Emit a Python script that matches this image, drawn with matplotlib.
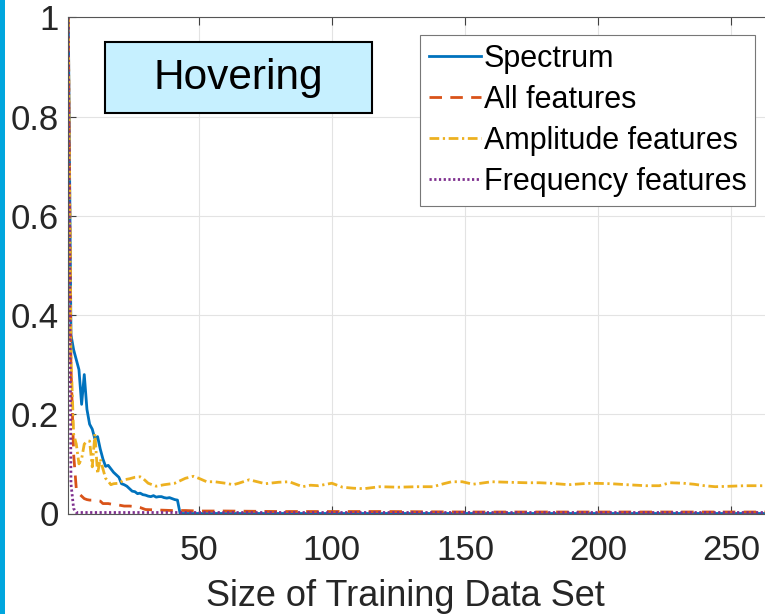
import matplotlib
matplotlib.use("Agg")
import matplotlib.pyplot as plt
from matplotlib.patches import Rectangle

plt.rcParams['font.family'] = ['Liberation Sans', 'DejaVu Sans']

# Classification error vs. training-set size (Hovering)
spec_x = [1, 2, 3, 4, 5, 6, 7, 8, 9, 10, 11, 12, 13, 14, 15, 16, 17, 18, 19, 20,
          21, 22, 23, 24, 25, 26, 27, 28, 29, 30, 31, 32, 33, 34, 35, 36, 37, 38,
          39, 40, 41, 42, 43, 270]
spec_y = [1.0, 0.36, 0.33, 0.31, 0.29, 0.22, 0.28, 0.21, 0.18, 0.17, 0.15, 0.155,
          0.13, 0.11, 0.095, 0.097, 0.09, 0.083, 0.078, 0.073, 0.06, 0.058, 0.055,
          0.05, 0.045, 0.044, 0.04, 0.041, 0.038, 0.037, 0.035, 0.034, 0.036, 0.033,
          0.034, 0.034, 0.032, 0.031, 0.032, 0.03, 0.028, 0.027, 0.0, 0.0]

all_x = [1, 2, 3, 4, 5, 6, 7, 8, 9, 10, 11, 12, 13, 14, 16, 18, 20, 22, 24, 26,
         28, 30, 35, 40, 45, 50, 60, 80, 100, 120, 150, 200, 270]
all_y = [1.0, 0.3, 0.12, 0.05, 0.04, 0.035, 0.03, 0.028, 0.027, 0.027, 0.027,
         0.026, 0.025, 0.02, 0.02, 0.018, 0.017, 0.015, 0.015, 0.014, 0.012, 0.008,
         0.007, 0.006, 0.006, 0.005, 0.005, 0.004, 0.004, 0.004, 0.003, 0.003, 0.003]

amp_x = [1, 2, 3, 4, 5, 6, 7, 8, 9, 10, 11, 12, 13, 14, 15, 16, 17, 18, 20, 22,
         24, 26, 28, 29, 31, 34, 37, 41, 45, 48, 50, 53, 56, 60, 63, 65, 69, 72,
         75, 80, 84, 89, 92, 95, 100, 104, 108, 112, 118, 125, 132, 138, 142, 145,
         149, 153, 156, 160, 166, 173, 178, 182, 189, 194, 198, 205, 211, 218, 223,
         227, 232, 236, 240, 244, 250, 255, 263, 270]
amp_y = [1.0, 0.32, 0.16, 0.14, 0.1, 0.11, 0.14, 0.145, 0.146, 0.094, 0.16, 0.08,
         0.11, 0.09, 0.071, 0.065, 0.058, 0.06, 0.061, 0.068, 0.07, 0.073, 0.074,
         0.071, 0.061, 0.055, 0.058, 0.061, 0.071, 0.075, 0.071, 0.064, 0.064, 0.061,
         0.058, 0.061, 0.068, 0.064, 0.06, 0.063, 0.064, 0.054, 0.057, 0.056, 0.061,
         0.053, 0.051, 0.05, 0.054, 0.053, 0.054, 0.054, 0.06, 0.064, 0.064, 0.059,
         0.061, 0.064, 0.063, 0.062, 0.062, 0.061, 0.058, 0.06, 0.061, 0.06, 0.058,
         0.056, 0.056, 0.062, 0.061, 0.059, 0.056, 0.054, 0.055, 0.056, 0.056, 0.056]

freq_x = [1, 2, 3, 4, 270]
freq_y = [1.0, 0.06, 0.01, 0.002, 0.002]

labels = ["Spectrum", "All features", "Amplitude features", "Frequency features"]
x_ticks = [50, 100, 150, 200, 250]
y_ticks = [0, 0.2, 0.4, 0.6, 0.8, 1]
y_ticklabels = ["0", "0.2", "0.4", "0.6", "0.8", "1"]

W, H = 765, 614
fig = plt.figure(figsize=(W / 100, H / 100), dpi=100)

# thin accent strip along the left edge
fig.patches.append(Rectangle((0, 0), 4.5 / W, 1, transform=fig.transFigure,
                             facecolor='#00A6DE', edgecolor='none'))

ax_left = 68.3 / W
ax_bottom = (H - 513.5) / H
ax_height = (513.5 - 17.3) / H
px_per_unit = 2.662
ax_width = (270 - 1) * px_per_unit / W
ax = fig.add_axes([ax_left, ax_bottom, ax_width, ax_height])

lw = 2.0
ax.plot(spec_x, spec_y, color='#0072BD', lw=lw, label=labels[0])
ax.plot(all_x, all_y, color='#D95319', lw=lw, linestyle=(0, (4.5, 3)), label=labels[1])
ax.plot(amp_x, amp_y, color='#EDB120', lw=lw, linestyle=(0, (3.5, 1.3, 0.8, 1.3)), label=labels[2])
ax.plot(freq_x, freq_y, color='#7E2F8E', lw=lw, linestyle=(0, (0.8, 0.9)), label=labels[3])

ax.set_xlim(1, 270)
ax.set_ylim(0, 1)
ax.set_xticks(x_ticks)
ax.set_yticks(y_ticks)
ax.set_yticklabels(y_ticklabels)
ax.grid(True, color='#E3E3E3', lw=0.8)
ax.set_axisbelow(True)
for s in ax.spines.values():
    s.set_color('#555555')
    s.set_linewidth(0.8)
ax.tick_params(direction='in', length=5.5, width=0.8, color='#404040',
               top=True, right=True, labelsize=25, labelcolor='#262626')
ax.tick_params(axis='x', pad=15)
ax.tick_params(axis='y', pad=7)

fig.text(405.5 / W, (H - 606.5) / H, "Size of Training Data Set", fontsize=26,
         color='#262626', ha='center', va='baseline')

# condition label box
fig.patches.append(Rectangle((105 / W, (H - 113) / H), 267 / W, 71 / H,
                             transform=fig.transFigure, facecolor='#C6F0FF',
                             edgecolor='black', lw=1.5, zorder=5))
fig.text(238.5 / W, (H - 77.5) / H, "Hovering", fontsize=30.5, color='black',
         ha='center', va='center', zorder=6)

leg = ax.legend(loc='upper left', bbox_to_anchor=(420 / W, (H - 35) / H),
                bbox_transform=fig.transFigure, borderaxespad=0, fontsize=22,
                handlelength=1.7, handletextpad=0.08, labelspacing=0.36,
                borderpad=0.3, fancybox=False, framealpha=1)
leg.get_frame().set_edgecolor('#777777')
leg.get_frame().set_linewidth(0.8)

fig.savefig("out.png", dpi=100)
